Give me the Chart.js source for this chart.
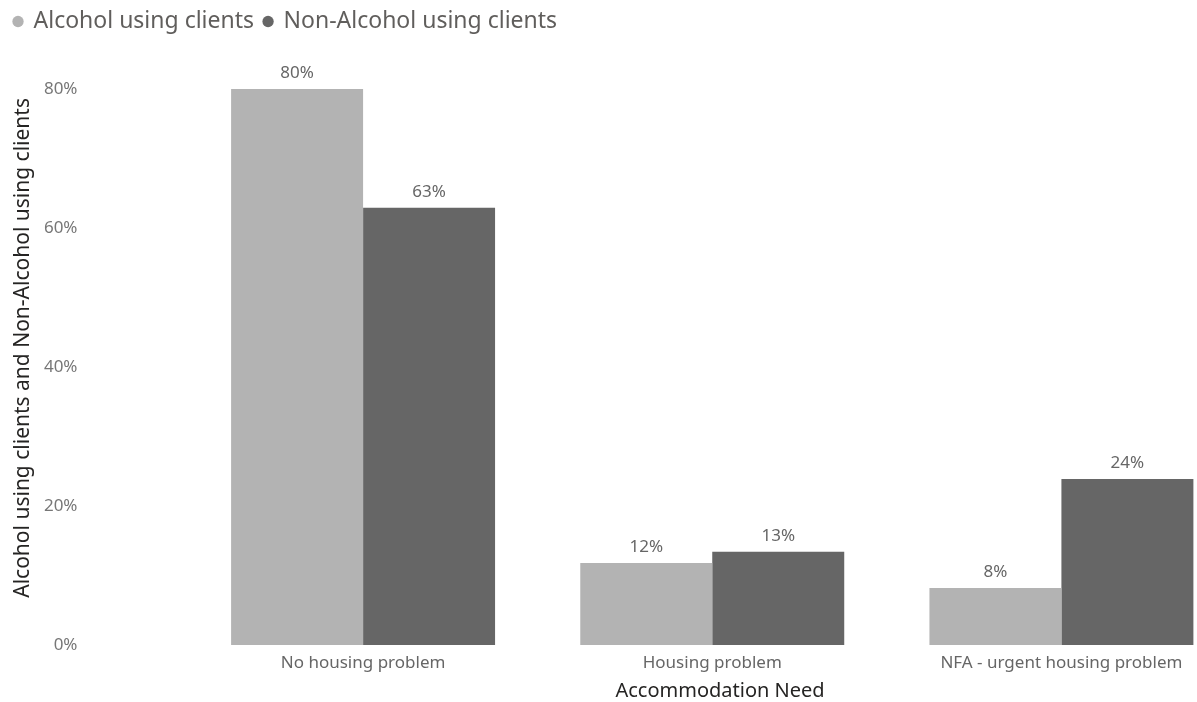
<!DOCTYPE html>
<html>
<head>
<meta charset="utf-8">
<script src="https://cdn.jsdelivr.net/npm/chart.js@4.4.1/dist/chart.umd.min.js"></script>
<style>
  html, body { margin: 0; padding: 0; background: #fff; overflow: hidden; }
  /* plot runs past the right edge, as in the original visual */
  #wrap { width: 1236px; height: 702px; position: relative; }
</style>
</head>
<body>
<div id="wrap"><canvas id="chart"></canvas></div>
<script>
const categories = ['No housing problem', 'Housing problem', 'NFA - urgent housing problem'];
const alcoholClients = [80, 11.8, 8.2];
const nonAlcoholClients = [62.9, 13.4, 23.9];
const seriesNames = ['Alcohol using clients', 'Non-Alcohol using clients'];
const yTicks = [0, 20, 40, 60, 80];

const FONT = '"Segoe UI", "Noto Sans", sans-serif';
Chart.defaults.font.family = FONT;

// value labels above each bar
const barLabels = {
    id: 'barLabels',
    afterDatasetsDraw(chart) {
        const ctx = chart.ctx;
        ctx.save();
        ctx.font = '17px ' + FONT;
        ctx.fillStyle = '#666';
        ctx.textAlign = 'center';
        ctx.textBaseline = 'bottom';
        chart.data.datasets.forEach((ds, i) => {
            chart.getDatasetMeta(i).data.forEach((bar, j) => {
                ctx.fillText(Math.round(ds.data[j]) + '%', bar.x, bar.y - 7);
            });
        });
        ctx.restore();
    }
};

// legend takes the whole band above the plot
const legendBand = {
    id: 'legendBand',
    beforeInit(chart) {
        const fit = chart.legend.fit;
        chart.legend.fit = function () {
            fit.call(this);
            this.height = 89;
        };
    }
};

new Chart(document.getElementById('chart'), {
    type: 'bar',
    plugins: [barLabels, legendBand],
    data: {
        labels: categories,
        datasets: [{
            label: seriesNames[0],
            data: alcoholClients,
            backgroundColor: '#b3b3b3',
            categoryPercentage: 0.756,
            barPercentage: 1.0
        }, {
            label: seriesNames[1],
            data: nonAlcoholClients,
            backgroundColor: '#666666',
            categoryPercentage: 0.756,
            barPercentage: 1.0
        }]
    },
    options: {
        responsive: true,
        maintainAspectRatio: false,
        animation: false,
        layout: { padding: { left: 4, right: 0, top: 0, bottom: 0 } },
        plugins: {
            legend: {
                position: 'top',
                align: 'start',
                labels: {
                    usePointStyle: true,
                    pointStyle: 'circle',
                    boxWidth: 8,
                    boxHeight: 8,
                    padding: 10,
                    color: '#605e5c',
                    font: { size: 23 }
                }
            },
            tooltip: { enabled: false }
        },
        scales: {
            x: {
                grid: { display: false, drawTicks: false },
                border: { display: false },
                ticks: { color: '#666', font: { size: 17 }, padding: 8, maxRotation: 0 },
                title: {
                    display: true,
                    text: '   Accommodation Need',
                    color: '#252423',
                    font: { size: 20 },
                    padding: { top: 2, bottom: -1 }
                },
                afterFit: s => { s.height = 57; }
            },
            y: {
                min: 0,
                max: 80,
                afterBuildTicks: s => { s.ticks = yTicks.map(v => ({ value: v })); },
                ticks: { color: '#777', font: { size: 17 }, padding: 111, callback: v => v + '%' },
                grid: { display: false, drawTicks: false },
                border: { display: false },
                title: {
                    display: true,
                    text: '       Alcohol using clients and Non-Alcohol using clients',
                    color: '#252423',
                    font: { size: 21 },
                    padding: { top: 6, bottom: 0 }
                },
                afterFit: s => {
                    s.width = 184.5;
                    s.paddingTop = 10;
                    s.paddingBottom = 10;
                }
            }
        }
    }
});
</script>
</body>
</html>
